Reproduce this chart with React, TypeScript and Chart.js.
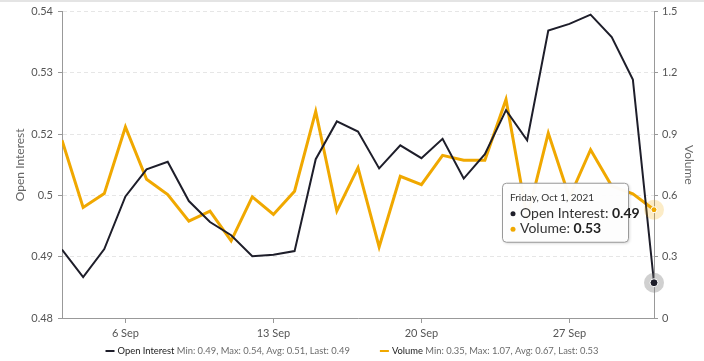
import React, { useEffect, useRef } from 'react';
import { Chart, registerables } from 'chart.js';

Chart.register(...registerables);

const days = [
  '3 Sep', '4 Sep', '5 Sep', '6 Sep', '7 Sep', '8 Sep', '9 Sep', '10 Sep', '11 Sep', '12 Sep',
  '13 Sep', '14 Sep', '15 Sep', '16 Sep', '17 Sep', '18 Sep', '19 Sep', '20 Sep', '21 Sep', '22 Sep',
  '23 Sep', '24 Sep', '25 Sep', '26 Sep', '27 Sep', '28 Sep', '29 Sep', '30 Sep', '1 Oct',
];

const openInterest = [
  0.4934, 0.4880, 0.4935, 0.5038, 0.5091, 0.5106, 0.5029, 0.4988, 0.4962, 0.4921,
  0.4924, 0.4931, 0.5111, 0.5185, 0.5165, 0.5093, 0.5138, 0.5113, 0.5151, 0.5073,
  0.5121, 0.5207, 0.5148, 0.5363, 0.5376, 0.5394, 0.5350, 0.5267, 0.4869,
];

const volume = [
  0.870, 0.541, 0.609, 0.935, 0.679, 0.604, 0.474, 0.523, 0.378, 0.593,
  0.507, 0.621, 1.011, 0.524, 0.736, 0.348, 0.694, 0.653, 0.796, 0.772,
  0.772, 1.07, 0.49, 0.905, 0.59, 0.824, 0.646, 0.608, 0.53,
];

const xTickLabels = ['6 Sep', '13 Sep', '20 Sep', '27 Sep'];
const oiTicks = [0.48, 0.492, 0.504, 0.516, 0.528, 0.54];
const volTicks = [0, 0.3, 0.6, 0.9, 1.2, 1.5];
const tooltipTitle = 'Friday, Oct 1, 2021';

const BLACK = '#1e1e2a';
const ORANGE = '#f0a800';
const FONT = 'Lato, "Open Sans", sans-serif';

const stats = (arr: number[]) => {
  const min = Math.min(...arr);
  const max = Math.max(...arr);
  const avg = arr.reduce((a, b) => a + b, 0) / arr.length;
  const last = arr[arr.length - 1];
  const f = (v: number) => String(Number(v.toFixed(2)));
  return `Min: ${f(min)}, Max: ${f(max)}, Avg: ${f(avg)}, Last: ${f(last)}`;
};

const overlayPlugin = {
  id: 'overlay',
  afterDraw(chart: any) {
    const ctx = chart.ctx as CanvasRenderingContext2D;
    const W = chart.width;
    ctx.save();
    ctx.fillStyle = '#e4e4e4';
    ctx.fillRect(0, 0, W, 2);

    const last = days.length - 1;
    const p0 = chart.getDatasetMeta(0).data[last];
    const p1 = chart.getDatasetMeta(1).data[last];

    // halos
    ctx.beginPath();
    ctx.arc(p0.x, p0.y, 10, 0, Math.PI * 2);
    ctx.fillStyle = 'rgba(120,120,120,0.35)';
    ctx.fill();
    ctx.beginPath();
    ctx.arc(p1.x, p1.y, 10, 0, Math.PI * 2);
    ctx.fillStyle = 'rgba(240,168,0,0.22)';
    ctx.fill();
    ctx.beginPath();
    ctx.arc(p0.x, p0.y, 4, 0, Math.PI * 2);
    ctx.fillStyle = BLACK;
    ctx.fill();
    ctx.lineWidth = 1;
    ctx.strokeStyle = '#ffffff';
    ctx.stroke();
    ctx.beginPath();
    ctx.arc(p1.x, p1.y, 3, 0, Math.PI * 2);
    ctx.fillStyle = ORANGE;
    ctx.fill();
    ctx.strokeStyle = '#ffffff';
    ctx.stroke();

    // tooltip box
    const bx = p1.x - 152;
    const by = p1.y - 27;
    const bw = 126;
    const bh = 59;
    ctx.save();
    ctx.shadowColor = 'rgba(0,0,0,0.2)';
    ctx.shadowBlur = 3;
    ctx.shadowOffsetX = 1;
    ctx.shadowOffsetY = 1;
    ctx.beginPath();
    ctx.roundRect(bx + 0.5, by + 0.5, bw, bh, 4);
    ctx.fillStyle = 'rgba(255,255,255,0.96)';
    ctx.fill();
    ctx.restore();
    ctx.beginPath();
    ctx.roundRect(bx + 0.5, by + 0.5, bw, bh, 4);
    ctx.strokeStyle = '#999999';
    ctx.lineWidth = 1;
    ctx.stroke();

    ctx.textBaseline = 'middle';
    ctx.textAlign = 'left';
    ctx.font = `10px ${FONT}`;
    ctx.fillStyle = '#333333';
    ctx.fillText(tooltipTitle, bx + 8, by + 15);

    const rows = [
      { color: BLACK, name: 'Open Interest: ', value: String(Number(openInterest[last].toFixed(2))) },
      { color: ORANGE, name: 'Volume: ', value: String(Number(volume[last].toFixed(2))) },
    ];
    rows.forEach((r, i) => {
      const cy = by + 30.5 + i * 15.5;
      ctx.beginPath();
      ctx.arc(bx + 11, cy + 0.5, 2.5, 0, Math.PI * 2);
      ctx.fillStyle = r.color;
      ctx.fill();
      ctx.font = `14px ${FONT}`;
      ctx.fillStyle = '#333333';
      ctx.fillText(r.name, bx + 18, cy);
      const w = ctx.measureText(r.name).width;
      ctx.font = `bold 14px ${FONT}`;
      ctx.fillStyle = '#222222';
      ctx.fillText(r.value, bx + 18 + w, cy);
    });

    // legend
    const items = [
      { color: BLACK, name: 'Open Interest', st: stats(openInterest) },
      { color: ORANGE, name: 'Volume', st: stats(volume) },
    ];
    ctx.font = `10px ${FONT}`;
    const refW = ctx.measureText(items[0].name + ' ' + items[0].st).width;
    const fs = Math.min(11, (10 * 233) / refW);
    const lf = `${fs.toFixed(2)}px ${FONT}`;
    ctx.font = lf;
    const dash = 9;
    const dgap = 3;
    const widths = items.map((it) => dash + dgap + ctx.measureText(it.name + ' ' + it.st).width);
    const gap = 30;
    const total = widths.reduce((a, b) => a + b, 0) + gap;
    let x = W / 2 - total / 2;
    const ly = 351;
    items.forEach((it, i) => {
      ctx.beginPath();
      ctx.moveTo(x, ly);
      ctx.lineTo(x + dash, ly);
      ctx.strokeStyle = it.color;
      ctx.lineWidth = 2;
      ctx.stroke();
      let tx = x + dash + dgap;
      ctx.font = lf;
      ctx.fillStyle = '#222222';
      ctx.fillText(it.name, tx, ly);
      tx += ctx.measureText(it.name).width;
      ctx.fillStyle = '#6b6b6b';
      ctx.fillText(' ' + it.st, tx, ly);
      x += widths[i] + gap;
    });
    ctx.restore();
  },
};

export default function App() {
  const ref = useRef<HTMLCanvasElement | null>(null);

  useEffect(() => {
    if (!ref.current) return;
    const tickIdx = xTickLabels.map((l) => days.indexOf(l));
    const chart = new Chart(ref.current, {
      type: 'line',
      data: {
        datasets: [
          {
            label: 'Open Interest',
            data: openInterest.map((v, i) => ({ x: i, y: v })),
            borderColor: BLACK,
            borderWidth: 2,
            pointRadius: 0,
            tension: 0,
            yAxisID: 'y',
          },
          {
            label: 'Volume',
            data: volume.map((v, i) => ({ x: i, y: v })),
            borderColor: ORANGE,
            borderWidth: 3,
            pointRadius: 0,
            tension: 0,
            yAxisID: 'y1',
          },
        ],
      },
      plugins: [overlayPlugin],
      options: {
        animation: false,
        responsive: false,
        devicePixelRatio: 1,
        layout: { padding: { top: 11, left: 0, right: 0, bottom: 0 } },
        plugins: { legend: { display: false }, tooltip: { enabled: false } },
        events: [],
        scales: {
          x: {
            type: 'linear',
            min: 0,
            max: days.length - 1,
            afterBuildTicks: (s: any) => {
              s.ticks = tickIdx.map((v) => ({ value: v }));
            },
            afterFit: (s: any) => {
              s.height = 43;
            },
            ticks: {
              callback: (v: any) => days[Math.round(Number(v))],
              font: { family: FONT, size: 11 },
              color: '#555555',
              padding: 4,
              autoSkip: false,
              maxRotation: 0,
            },
            grid: { drawOnChartArea: false, drawTicks: true, tickLength: 5, tickColor: '#999999' },
            border: { color: '#999999', width: 1 },
          },
          y: {
            position: 'left',
            min: 0.48,
            max: 0.54,
            afterBuildTicks: (s: any) => {
              s.ticks = oiTicks.map((v) => ({ value: v }));
            },
            afterFit: (s: any) => {
              s.width = 62;
            },
            ticks: {
              callback: (v: any) => String(Number(Number(v).toFixed(2))),
              font: { family: FONT, size: 11 },
              color: '#555555',
              padding: 5,
            },
            grid: {
              color: '#e6e6e6',
              tickColor: '#999999',
              tickLength: 4,
              tickBorderDash: [],
              lineWidth: 1,
            },
            border: { color: '#999999', width: 1, dash: [4, 3] },
            title: {
              display: true,
              text: 'Open Interest',
              color: '#666666',
              font: { family: FONT, size: 12 },
              padding: { top: 13, bottom: 0 },
            },
          },
          y1: {
            position: 'right',
            min: 0,
            max: 1.5,
            afterBuildTicks: (s: any) => {
              s.ticks = volTicks.map((v) => ({ value: v }));
            },
            afterFit: (s: any) => {
              s.width = 50;
            },
            ticks: {
              callback: (v: any) => String(Number(Number(v).toFixed(1))),
              font: { family: FONT, size: 11 },
              color: '#555555',
              padding: 4,
            },
            grid: { drawOnChartArea: false, tickColor: '#999999', tickLength: 4 },
            border: { color: '#999999', width: 1 },
            title: {
              display: true,
              text: 'Volume',
              color: '#666666',
              font: { family: FONT, size: 12 },
              padding: { top: 8, bottom: 0 },
            },
          },
        },
      },
    } as any);
    return () => chart.destroy();
  }, []);

  return (
    <div style={{ position: 'fixed', left: 0, top: 0, width: 704, height: 361, background: '#fff' }}>
      <canvas ref={ref} width={704} height={361} style={{ display: 'block', width: 704, height: 361 }} />
    </div>
  );
}
